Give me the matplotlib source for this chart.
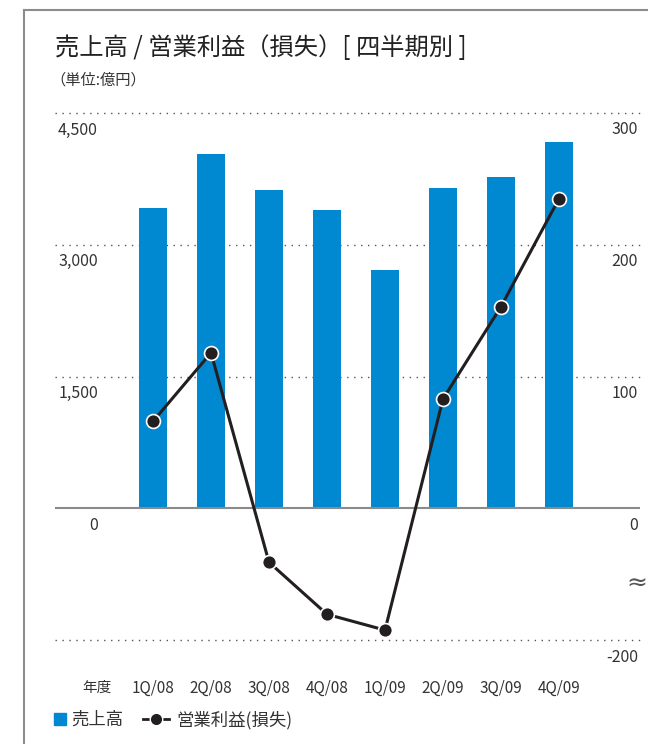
import numpy as np
import matplotlib.pyplot as plt
from matplotlib.lines import Line2D
from matplotlib import transforms

plt.rcParams['font.family'] = ['Noto Sans CJK JP', 'DejaVu Sans']

# ====================================================
quarters = ['1Q/08', '2Q/08', '3Q/08', '4Q/08', '1Q/09', '2Q/09', '3Q/09', '4Q/09']
sales = [3420, 4030, 3620, 3395, 2710, 3645, 3770, 4170]
op_income = [66, 118, -82, -161, -185, 83, 153, 235]

left_ticks = [0, 1500, 3000, 4500]
left_labels = ['0', '1,500', '3,000', '4,500']
right_ticks = [-200, 0, 100, 200, 300]
right_labels = ['-200', '0', '100', '200', '300']

BLUE = '#0088d0'
INK = '#231f20'
TXT = '#333333'
GRID = '#555555'


# ====================================================
def squash(v):
	# right axis is broken below zero: one grid step holds 200
	v = np.asarray(v, dtype=float)
	return np.where(v < 0, v / 2, v)


# ====================================================
def main():
	fig = plt.figure(figsize=(6.48, 7.44), dpi=100)
	ax = fig.add_axes([55/648, 104/744, 585/648, 527/744])
	ax2 = ax.twinx()

	x = np.arange(len(quarters))
	ax.bar(x, sales, width=28/58, color=BLUE, zorder=2)
	ax2.plot(x, squash(op_income), color=INK, lw=2.2, marker='o', ms=10,
			 mfc=INK, mec='white', mew=1.2, zorder=4, clip_on=False)

	ax.set_xlim(-98/58, 487/58)
	ax.set_ylim(-1500, 4500)
	ax2.set_ylim(-100, 300)
	for a in (ax, ax2):
		for s in a.spines.values():
			s.set_visible(False)
		a.set_yticks([])
	ax.set_xticks(x, quarters, fontsize=11, color=TXT)
	ax.tick_params(axis='x', length=0, pad=29)

	# dotted grid, bars sit on top of it
	for v in left_ticks[1:]:
		ax.axhline(v, color=GRID, ls=(0, (1, 4)), lw=1, zorder=1, clip_on=False)
	ax2.axhline(squash(-200), color=GRID, ls=(0, (1, 4)), lw=1, zorder=1, clip_on=False)
	ax.axhline(0, color='#8a8a8a', lw=1.5, zorder=3)

	# tick labels sit just under their lines
	tl = transforms.offset_copy(ax.get_yaxis_transform(), fig=fig, y=-17, units='dots')
	for v, s in zip(left_ticks, left_labels):
		ax.text(43/585, v, s, transform=tl, ha='right', va='center', fontsize=11.5, color=TXT)
	tr = transforms.offset_copy(ax2.get_yaxis_transform(), fig=fig, y=-17, units='dots')
	for v, s in zip(right_ticks, right_labels):
		ax2.text(583/585, squash(v), s, transform=tr, ha='right', va='center', fontsize=11.5, color=TXT)
	ax2.text(1.012, -57, '≈', transform=ax2.get_yaxis_transform(), ha='right', va='center',
			 fontsize=18, color='#555555', family='DejaVu Sans')

	fig.text(55/648, 1 - 48/744, '売上高 / 営業利益（損失）[ 四半期別 ]', fontsize=17.5,
			 va='center', color='#222222')
	fig.text(50/648, 1 - 80/744, '（単位:億円）', fontsize=11, va='center', color=TXT)
	fig.text(82/648, 1 - 688/744, '年度', fontsize=10.5, va='center', color=TXT)

	# legend, one entry each so the handles can differ in length
	sq = Line2D([], [], marker='s', color=BLUE, ls='none', ms=8)
	ln = Line2D([], [], color=INK, lw=2, marker='o', ms=9, mfc=INK, mec='white')
	common = dict(loc='center left', frameon=False, fontsize=12.5, borderaxespad=0,
				  borderpad=0, labelcolor=TXT)
	fig.legend([sq], ['売上高'], bbox_to_anchor=(54/648, 1 - 720/744),
			   handlelength=0.7, handletextpad=0.3, **common)
	fig.legend([ln], ['営業利益(損失)'], bbox_to_anchor=(143/648, 1 - 720/744),
			   handlelength=1.5, handletextpad=0.4, **common)

	# outer frame, left and top edges
	fig.add_artist(Line2D([24/648, 24/648], [0, 1 - 10/744], transform=fig.transFigure,
						  color='#8c8c8c', lw=1.5))
	fig.add_artist(Line2D([24/648, 1], [1 - 10/744, 1 - 10/744], transform=fig.transFigure,
						  color='#8c8c8c', lw=1.5))

	fig.savefig('out.png', dpi=100)


# ====================================================
if __name__ == "__main__":
	main()
